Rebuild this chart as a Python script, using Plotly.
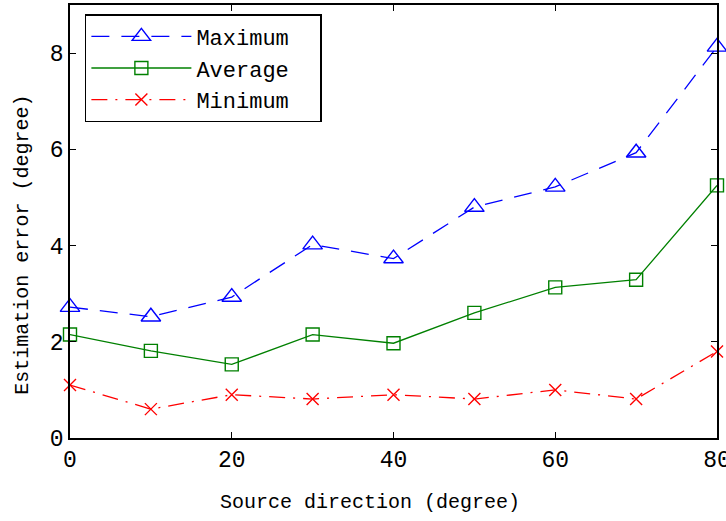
import plotly.graph_objects as go

directions = [0, 10, 20, 30, 40, 50, 60, 70, 80]
maximum = [2.72, 2.52, 2.93, 4.02, 3.73, 4.8, 5.22, 5.93, 8.13]
average = [2.15, 1.81, 1.53, 2.15, 1.97, 2.6, 3.13, 3.29, 5.25]
minimum = [1.1, 0.6, 0.9, 0.81, 0.9, 0.81, 1.0, 0.81, 1.8]
x_ticks = [0, 20, 40, 60, 80]
y_ticks = [0, 2, 4, 6, 8]
x_title = "Source direction (degree)"
y_title = "Estimation error (degree)"
PAD = "\u00a0\u00a0"

FONT = "Liberation Mono"

fig = go.Figure()
fig.add_trace(go.Scatter(
    x=directions, y=maximum, name="Maximum" + PAD, mode="lines+markers",
    line=dict(color="#0000FF", width=1.3, dash="18px,12px"),
    marker=dict(symbol="triangle-up-open", size=17, color="#0000FF", line=dict(width=1.4)),
    cliponaxis=False))
fig.add_trace(go.Scatter(
    x=directions, y=average, name="Average" + PAD, mode="lines+markers",
    line=dict(color="#008000", width=1.3),
    marker=dict(symbol="square-open", size=13, color="#008000", line=dict(width=1.4)),
    cliponaxis=False))
fig.add_trace(go.Scatter(
    x=directions, y=minimum, name="Minimum" + PAD, mode="lines+markers",
    line=dict(color="#FF0000", width=1.3, dash="16px,8px,2px,8px"),
    marker=dict(symbol="x-thin-open", size=12, color="#FF0000", line=dict(width=1.4, color="#FF0000")),
    cliponaxis=False))

axis_common = dict(
    showline=True, linecolor="black", linewidth=1.5, mirror="ticks",
    ticks="inside", ticklen=6, tickwidth=1.2, tickcolor="black",
    showgrid=False, zeroline=False, ticklabeloverflow="allow", automargin=False,
    tickfont=dict(family=FONT, size=23, color="black"),
)
fig.update_xaxes(range=[0, 80], tickvals=x_ticks, **axis_common)
fig.update_yaxes(range=[0, 9], tickvals=y_ticks, **axis_common)

fig.add_annotation(text=x_title, xref="paper", yref="paper", x=0.463, y=-0.150,
                   xanchor="center", yanchor="middle", showarrow=False,
                   font=dict(family=FONT, size=20, color="black"))
fig.add_annotation(text=y_title, xref="paper", yref="paper", x=-0.073, y=0.446,
                   xanchor="center", yanchor="middle", showarrow=False, textangle=-90,
                   font=dict(family=FONT, size=20, color="black"))

fig.update_layout(
    width=726, height=521,
    margin=dict(l=70, r=9, t=5, b=83),
    paper_bgcolor="white", plot_bgcolor="white",
    showlegend=True,
    legend=dict(x=0.023, y=0.979, xanchor="left", yanchor="top",
                bgcolor="white", bordercolor="black", borderwidth=1.5,
                font=dict(family=FONT, size=22, color="black"),
                itemwidth=100, tracegroupgap=0),
)

fig.write_html("out.html")
